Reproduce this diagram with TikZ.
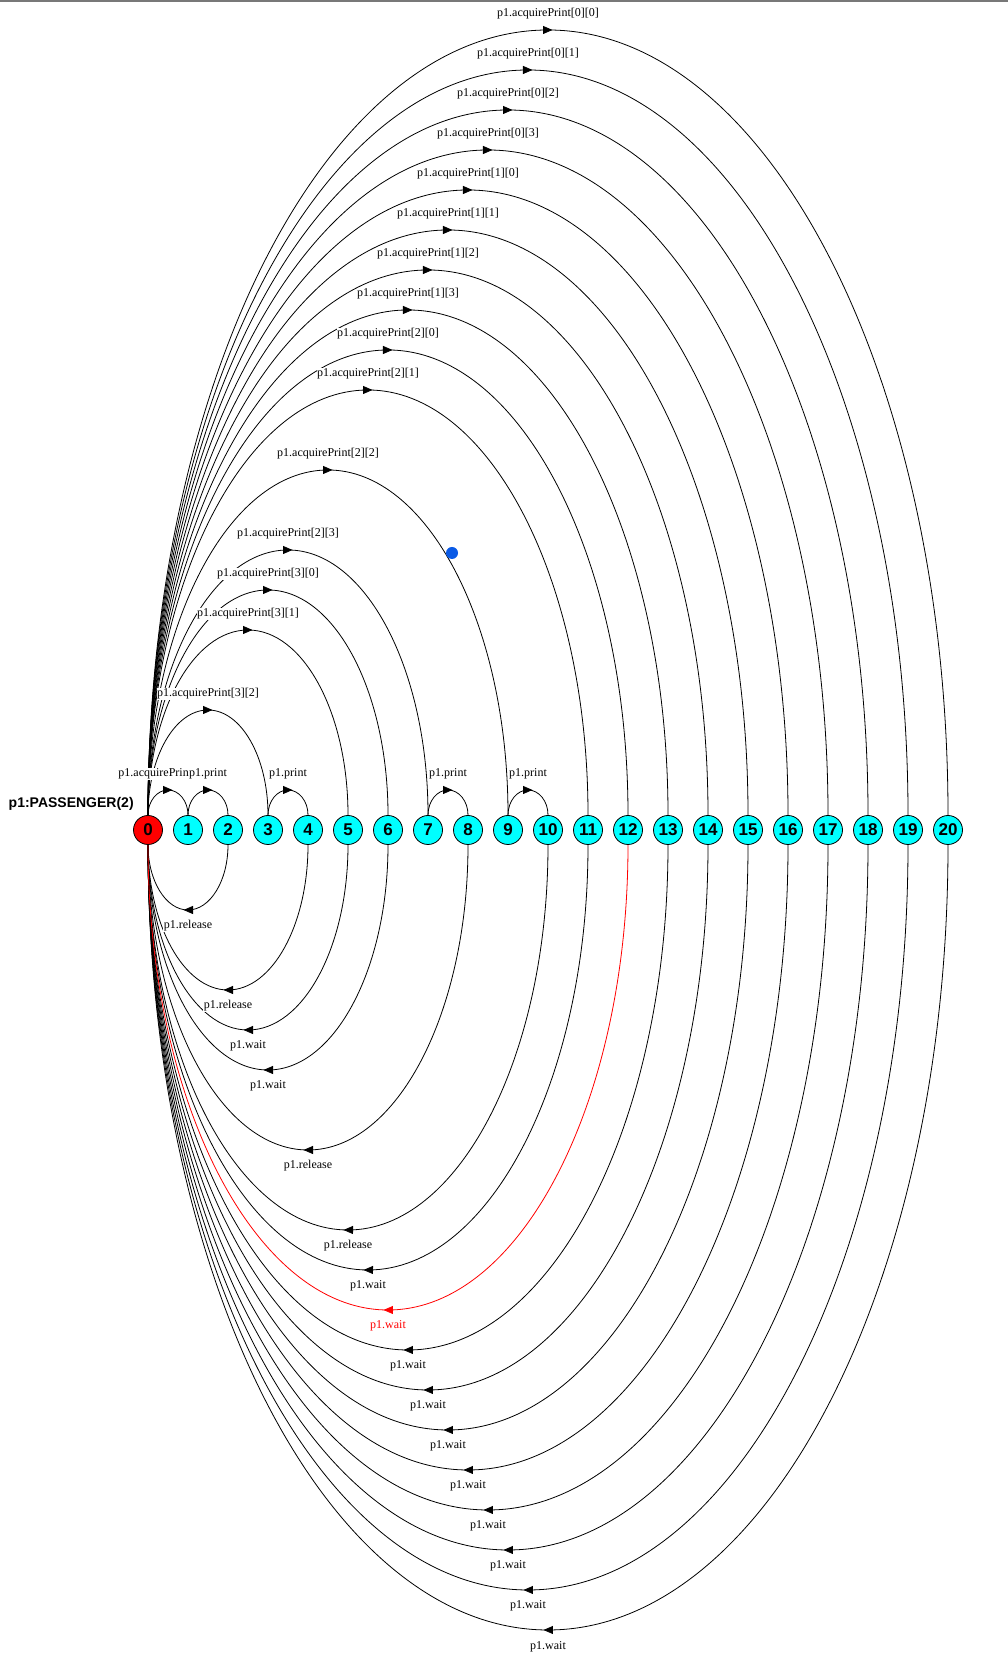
\documentclass[tikz,border=0pt]{standalone}
\usepackage{fontspec}
\setmainfont{Liberation Serif}
\setsansfont{Liberation Sans}
\usetikzlibrary{arrows.meta,decorations.markings}
\definecolor{StateCyan}{RGB}{0,255,255}
\definecolor{StateRed}{RGB}{255,0,0}
\definecolor{DotBlue}{RGB}{10,90,230}
\definecolor{TopGray}{RGB}{120,120,120}

\begin{document}
\begin{tikzpicture}[x=1pt, y=1pt,
    state/.style={circle, draw, line width=0.8pt, fill=StateCyan, minimum size=29pt,
      inner sep=0pt, font=\sffamily\bfseries\fontsize{17}{17}\selectfont},
    trans/.style={line width=0.8pt, postaction={decorate},
      decoration={markings, mark=at position 0.5 with
        {\pgftransformxshift{4.5pt}\arrow{Triangle[length=9.5pt,width=8pt]}}}},
    lbl/.style={fill=white, inner sep=0.5pt, text height=8.5pt, text depth=2.5pt,
      font=\fontsize{12}{12}\selectfont}]

  \useasboundingbox (0,0) rectangle (1008,1672);
  \fill[TopGray] (0,1669.5) rectangle (1008,1672);

  % --- States ---
  \node[state, fill=StateRed] (n0) at (148,842) {0};
  \foreach \n in {1,...,20}
    \node[state] (n\n) at ({148+40*\n},842) {\n};
  \node[anchor=west, inner sep=0pt, font=\sffamily\bfseries\fontsize{14}{14}\selectfont]
    (title) at (8.5,868) {p1:PASSENGER(2)};

  % --- Short arcs: 0 -> 1 and the print loops ---
  \draw[trans] (n0.north) .. controls +(0,14) and +(-11,0) .. (168,882)
    .. controls +(11,0) and +(0,14) .. (n1.north);
  \foreach \a/\b in {1/2, 3/4, 7/8, 9/10}
    \draw[trans] (n\a.north) .. controls +(0,14) and +(-11,0) .. ({168+40*\a},882)
      .. controls +(11,0) and +(0,14) .. (n\b.north);

  % --- acquirePrint arcs from 0 (above) ---
  \foreach \t in {3,5,6,7,9,11,12,13,14,15,16,17,18,19,20} {
    \pgfmathsetmacro{\w}{20*\t}
    \pgfmathsetmacro{\h}{40*\t-14.5}
    \draw[trans] (n0.north) .. controls +(0,{0.552*\h}) and +({-0.552*\w},0) .. ({148+\w},{842+40*\t})
      .. controls +({0.552*\w},0) and +(0,{0.552*\h}) .. (n\t.north);
  }

  % --- release / wait arcs back to 0 (below) ---
  \foreach \s in {2,4,5,6,8,10,11,13,14,15,16,17,18,19,20} {
    \pgfmathsetmacro{\w}{20*\s}
    \pgfmathsetmacro{\h}{40*\s-14.5}
    \draw[trans] (n\s.south) .. controls +(0,{-0.552*\h}) and +({0.552*\w},0) .. ({148+\w},{842-40*\s})
      .. controls +({-0.552*\w},0) and +(0,{-0.552*\h}) .. (n0.south);
  }
  \draw[trans, StateRed] (n12.south) .. controls +(0,-256.9) and +(132.5,0) .. (388,362)
    .. controls +(-132.5,0) and +(0,-256.9) .. (n0.south);

  % --- Labels (on top of the arcs) ---
  \node[lbl, anchor=east] (up1) at (189.5,898) {p1.acquirePrin};
  \foreach \a in {1,3,7,9}
    \node[lbl] (pr\a) at ({168+40*\a},898) {p1.print};
  \foreach \t/\i/\j in {3/3/2, 5/3/1, 6/3/0, 7/2/3, 9/2/2, 11/2/1, 12/2/0, 13/1/3,
                        14/1/2, 15/1/1, 16/1/0, 17/0/3, 18/0/2, 19/0/1, 20/0/0}
    \node[lbl] (up\t) at ({148+20*\t},{858+40*\t}) {p1.acquirePrint[\i][\j]};
  \foreach \s/\act in {2/release, 4/release, 5/wait, 6/wait, 8/release, 10/release, 11/wait,
                       13/wait, 14/wait, 15/wait, 16/wait, 17/wait, 18/wait, 19/wait, 20/wait}
    \node[lbl] (dn\s) at ({148+20*\s},{826-40*\s}) {p1.\act};
  \node[lbl, text=StateRed] (dn12) at (388,346) {p1.wait};

  % --- Marker dot ---
  \node[circle, fill=DotBlue, minimum size=12pt, inner sep=0pt] (dot) at (452,1119) {};

\end{tikzpicture}
\end{document}
